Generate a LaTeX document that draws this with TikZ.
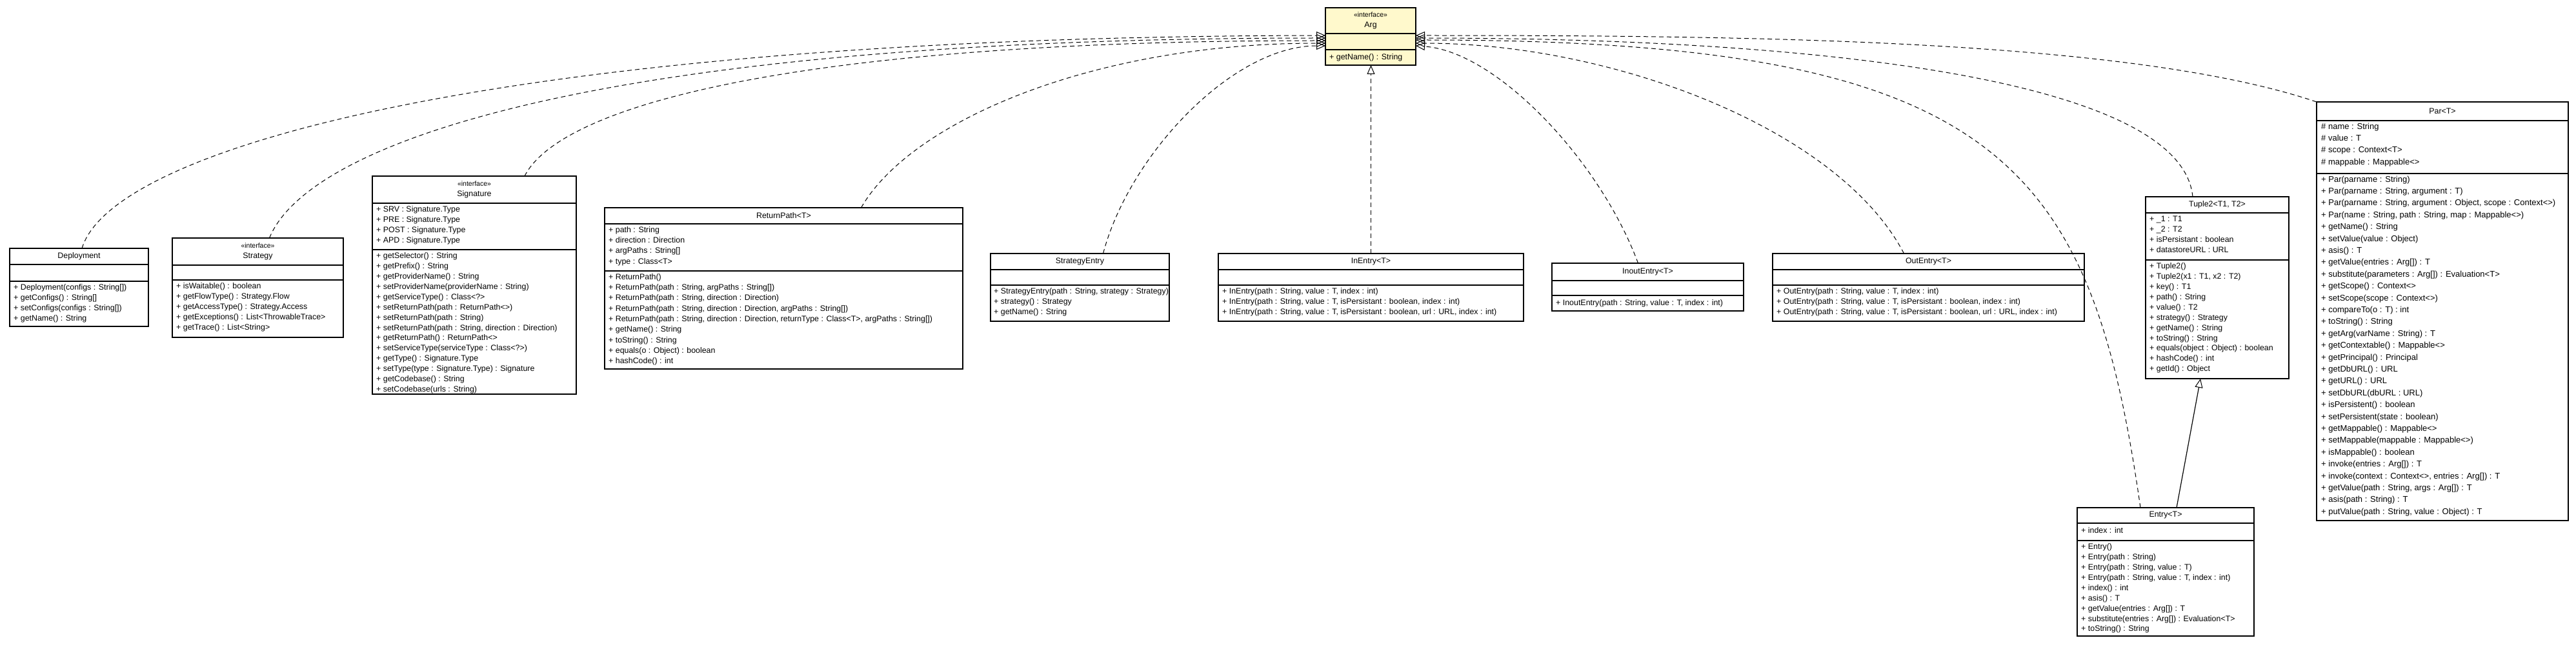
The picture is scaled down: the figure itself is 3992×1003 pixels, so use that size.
\documentclass[tikz,border=0pt]{standalone}
\usepackage{fontspec}
\setmainfont{Liberation Sans}
\usetikzlibrary{arrows.meta}
\definecolor{argfill}{HTML}{FFF9CC}
\tikzset{
  clsbox/.style={draw=black, line width=1.2pt, inner sep=0pt, outer sep=0pt},
  divline/.style={draw=black, line width=1.2pt},
  hdr/.style={font=\fontsize{12.4}{15.9}\selectfont, align=center, inner sep=0pt},
  members/.style={font=\fontsize{12.4}{15.9}\selectfont, align=left, anchor=north west, inner sep=0pt, execute at begin node=\strut},
  rpmembers/.style={members, font=\fontsize{12.4}{16.3}\selectfont},
  parmembers/.style={members, font=\fontsize{13}{18.4}\selectfont},
  realize/.style={draw=black, line width=1.0pt, dash pattern=on 7pt off 5pt, -{Triangle[open, length=14pt, width=12pt, line width=1.0pt]}},
  inherit/.style={draw=black, line width=1.2pt, -{Triangle[open, length=14pt, width=12pt, line width=1.0pt]}}
}
\newcommand\stereo{{\fontsize{10.5}{13}\selectfont «interface»}}
% name, x1, y1, x2, y2, d1, d2, fill, header
\newcommand\umlclass[9]{%
  \node[clsbox, fill=#8, minimum width={(#4)-(#2)}, minimum height={(#5)-(#3)}, anchor=north west] (#1) at (#2,#3) {};
  \draw[divline] (#2,#6) -- (#4,#6);
  \draw[divline] (#2,#7) -- (#4,#7);
  \node[hdr] (#1-h) at ({(#2+#4)/2},{(#3+#6)/2}) {#9};
}
\begin{document}
\begin{tikzpicture}[x=1pt, y=-1pt]
\useasboundingbox[fill=white] (0,0) rectangle (3992,1003);

% Arg
\umlclass{arg}{2054}{12}{2194}{101}{52}{77}{argfill}{\stereo\\Arg}
\node[members] (arg-m) at (2060,81.6) {+ getName() : String};

% Deployment
\umlclass{deploy}{15}{385}{230}{506}{410}{436}{white}{Deployment}
\node[members] (deploy-m) at (21,440.6) {+ Deployment(configs : String[])\\+ getConfigs() : String[]\\+ setConfigs(configs : String[])\\+ getName() : String};

% Strategy
\umlclass{strategy}{267}{369}{532}{523}{411}{434}{white}{\stereo\\Strategy}
\node[members] (strategy-m) at (273,438.6) {+ isWaitable() : boolean\\+ getFlowType() : Strategy.Flow\\+ getAccessType() : Strategy.Access\\+ getExceptions() : List<ThrowableTrace>\\+ getTrace() : List<String>};

% Signature
\umlclass{signature}{577}{273}{893}{611}{315}{387}{white}{\stereo\\Signature}
\node[members] (signature-a) at (583,319.6) {+ SRV : Signature.Type\\+ PRE : Signature.Type\\+ POST : Signature.Type\\+ APD : Signature.Type};
\node[members] (signature-m) at (583,391.6) {+ getSelector() : String\\+ getPrefix() : String\\+ getProviderName() : String\\+ setProviderName(providerName : String)\\+ getServiceType() : Class<?>\\+ setReturnPath(path : ReturnPath<>)\\+ setReturnPath(path : String)\\+ setReturnPath(path : String, direction : Direction)\\+ getReturnPath() : ReturnPath<>\\+ setServiceType(serviceType : Class<?>)\\+ getType() : Signature.Type\\+ setType(type : Signature.Type) : Signature\\+ getCodebase() : String\\+ setCodebase(urls : String)};

% ReturnPath
\umlclass{returnpath}{937}{322}{1492}{572}{347}{420}{white}{ReturnPath<T>}
\node[rpmembers] (returnpath-a) at (943,351.2) {+ path : String\\+ direction : Direction\\+ argPaths : String[]\\+ type : Class<T>};
\node[rpmembers] (returnpath-m) at (943,424.2) {+ ReturnPath()\\+ ReturnPath(path : String, argPaths : String[])\\+ ReturnPath(path : String, direction : Direction)\\+ ReturnPath(path : String, direction : Direction, argPaths : String[])\\+ ReturnPath(path : String, direction : Direction, returnType : Class<T>, argPaths : String[])\\+ getName() : String\\+ toString() : String\\+ equals(o : Object) : boolean\\+ hashCode() : int};

% StrategyEntry
\umlclass{stratentry}{1535}{393}{1812}{498}{418}{442}{white}{StrategyEntry}
\node[members] (stratentry-m) at (1540,446.6) {+ StrategyEntry(path : String, strategy : Strategy)\\+ strategy() : Strategy\\+ getName() : String};

% InEntry
\umlclass{inentry}{1888}{393}{2361}{498}{418}{442}{white}{InEntry<T>}
\node[members] (inentry-m) at (1894,446.6) {+ InEntry(path : String, value : T, index : int)\\+ InEntry(path : String, value : T, isPersistant : boolean, index : int)\\+ InEntry(path : String, value : T, isPersistant : boolean, url : URL, index : int)};

% InoutEntry
\umlclass{inoutentry}{2405}{408}{2702}{482}{435}{458}{white}{InoutEntry<T>}
\node[members] (inoutentry-m) at (2411,462.6) {+ InoutEntry(path : String, value : T, index : int)};

% OutEntry
\umlclass{outentry}{2747}{393}{3230}{498}{418}{442}{white}{OutEntry<T>}
\node[members] (outentry-m) at (2753,446.6) {+ OutEntry(path : String, value : T, index : int)\\+ OutEntry(path : String, value : T, isPersistant : boolean, index : int)\\+ OutEntry(path : String, value : T, isPersistant : boolean, url : URL, index : int)};

% Tuple2
\umlclass{tuple}{3325}{305}{3547}{587}{330}{403}{white}{Tuple2<T1, T2>}
\node[members] (tuple-a) at (3331,334.6) {+ \_1 : T1\\+ \_2 : T2\\+ isPersistant : boolean\\+ datastoreURL : URL};
\node[members] (tuple-m) at (3331,407.6) {+ Tuple2()\\+ Tuple2(x1 : T1, x2 : T2)\\+ key() : T1\\+ path() : String\\+ value() : T2\\+ strategy() : Strategy\\+ getName() : String\\+ toString() : String\\+ equals(object : Object) : boolean\\+ hashCode() : int\\+ getId() : Object};

% Entry
\umlclass{entry}{3219}{787}{3493}{986}{811}{838}{white}{Entry<T>}
\node[members] (entry-a) at (3225,815.6) {+ index : int};
\node[members] (entry-m) at (3225,842.6) {+ Entry()\\+ Entry(path : String)\\+ Entry(path : String, value : T)\\+ Entry(path : String, value : T, index : int)\\+ index() : int\\+ asis() : T\\+ getValue(entries : Arg[]) : T\\+ substitute(entries : Arg[]) : Evaluation<T>\\+ toString() : String};

% Par
\umlclass{par}{3590}{158}{3980}{807}{187}{269}{white}{Par<T>}
\node[parmembers] (par-a) at (3597,190.5) {\# name : String\\\# value : T\\\# scope : Context<T>\\\# mappable : Mappable<>};
\node[parmembers] (par-m) at (3597,272.5) {+ Par(parname : String)\\+ Par(parname : String, argument : T)\\+ Par(parname : String, argument : Object, scope : Context<>)\\+ Par(name : String, path : String, map : Mappable<>)\\+ getName() : String\\+ setValue(value : Object)\\+ asis() : T\\+ getValue(entries : Arg[]) : T\\+ substitute(parameters : Arg[]) : Evaluation<T>\\+ getScope() : Context<>\\+ setScope(scope : Context<>)\\+ compareTo(o : T) : int\\+ toString() : String\\+ getArg(varName : String) : T\\+ getContextable() : Mappable<>\\+ getPrincipal() : Principal\\+ getDbURL() : URL\\+ getURL() : URL\\+ setDbURL(dbURL : URL)\\+ isPersistent() : boolean\\+ setPersistent(state : boolean)\\+ getMappable() : Mappable<>\\+ setMappable(mappable : Mappable<>)\\+ isMappable() : boolean\\+ invoke(entries : Arg[]) : T\\+ invoke(context : Context<>, entries : Arg[]) : T\\+ getValue(path : String, args : Arg[]) : T\\+ asis(path : String) : T\\+ putValue(path : String, value : Object) : T};

% realizations (left side of Arg)
\draw[realize] ([xshift=4.5pt]deploy.north) .. controls (175,225) and (800,57) .. ([yshift=1.5pt]arg.west);
\draw[realize] ([xshift=18pt]strategy.north) .. controls (480,215) and (950,59) .. ([yshift=-2.5pt]arg.west);
\draw[realize] ([xshift=78pt]signature.north) .. controls (870,160) and (1250,63) .. ([yshift=-6.5pt]arg.west);
\draw[realize] ([xshift=120pt]returnpath.north) .. controls (1410,190) and (1690,67) .. ([yshift=-10.5pt]arg.west);
\draw[realize] ([xshift=36pt]stratentry.north) .. controls (1750,240) and (1910,71) .. ([yshift=-14.5pt]arg.west);
% straight to bottom
\draw[realize] (inentry.north) -- (inentry.north |- arg.south);
% right side of Arg
\draw[realize] ([xshift=-15pt]inoutentry.north) .. controls (2480,250) and (2320,80) .. ([yshift=-14.5pt]arg.east);
\draw[realize] ([xshift=-38pt]outentry.north) .. controls (2850,200) and (2500,67) .. ([yshift=-10.5pt]arg.east);
\draw[realize] ([xshift=-38pt]tuple.north) .. controls (3380,120) and (2800,59) .. ([yshift=-2.5pt]arg.east);
\draw[realize] ([xshift=-39pt]entry.north) .. controls (3240,250) and (3100,62) .. ([yshift=-5.5pt]arg.east);
\draw[realize] (par.north west) .. controls (3300,60) and (2700,55) .. ([yshift=1.5pt]arg.east);
% generalization Entry -> Tuple2
\draw[inherit] ([xshift=17pt]entry.north) -- ([xshift=-26pt]tuple.south);
\end{tikzpicture}
\end{document}
